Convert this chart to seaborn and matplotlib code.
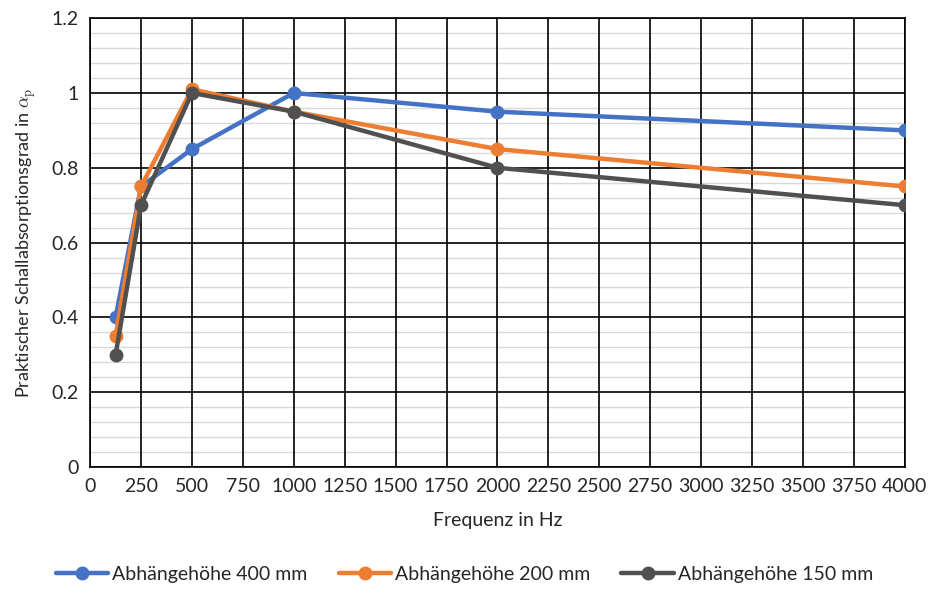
import numpy as np
import pandas as pd
import matplotlib
matplotlib.use("Agg")
import matplotlib.pyplot as plt
from matplotlib.ticker import MultipleLocator
import seaborn as sns

# Daten
frequenzen = [125, 250, 500, 1000, 2000, 4000]
serien = ["Abhängehöhe 400 mm", "Abhängehöhe 200 mm", "Abhängehöhe 150 mm"]
werte_400 = [0.40, 0.75, 0.85, 1.00, 0.95, 0.90]
werte_200 = [0.35, 0.75, 1.01, 0.95, 0.85, 0.75]
werte_150 = [0.30, 0.70, 1.00, 0.95, 0.80, 0.70]
farben = ["#4472C4", "#ED7D31", "#505050"]

df = pd.DataFrame({
    "f": frequenzen * 3,
    "alpha": werte_400 + werte_200 + werte_150,
    "serie": np.repeat(serien, len(frequenzen)),
})

sns.set_style("white")
plt.rcParams["font.family"] = ["Lato", "DejaVu Sans"]
plt.rcParams["mathtext.fontset"] = "cm"

fig, ax = plt.subplots(figsize=(9.29, 6.05), dpi=100)
fig.subplots_adjust(left=0.097, right=0.974, top=0.970, bottom=0.228)

sns.lineplot(data=df, x="f", y="alpha", hue="serie", hue_order=serien,
             palette=farben, marker="o", markersize=10, markeredgewidth=0,
             linewidth=3.2, ax=ax, legend=True, zorder=3)

ax.set_xlim(0, 4000)
ax.set_ylim(0, 1.2)
ax.xaxis.set_major_locator(MultipleLocator(250))
ax.yaxis.set_minor_locator(MultipleLocator(0.04))
ax.set_yticks(np.arange(0, 1.21, 0.2))
ax.set_yticklabels(["0", "0.2", "0.4", "0.6", "0.8", "1", "1.2"])

ax.grid(which="minor", axis="y", color="#d9d9d9", linewidth=1.0)
ax.grid(which="major", axis="both", color="black", linewidth=1.2)
ax.set_axisbelow(True)
# vertikale Linien über den hellgrauen Hilfslinien
ax.yaxis.set_zorder(0.5)
ax.xaxis.set_zorder(0.6)
for s in ax.spines.values():
    s.set_color("black")
    s.set_linewidth(1.2)

ax.tick_params(which="both", length=0, labelsize=14, pad=8)
ax.set_xlabel("Frequenz in Hz", fontsize=14, labelpad=12)
ax.set_ylabel(r"Praktischer Schallabsorptionsgrad in $\alpha_{\mathrm{p}}$",
              fontsize=13, labelpad=10)

handles, labels = ax.get_legend_handles_labels()
ax.legend_.remove()
fig.legend(handles, labels, loc="center", bbox_to_anchor=(0.5, 0.05),
           ncol=3, frameon=False, fontsize=14, handlelength=2.7,
           handletextpad=0.2, columnspacing=1.6)

plt.savefig("out.png", dpi=100)
plt.close()
